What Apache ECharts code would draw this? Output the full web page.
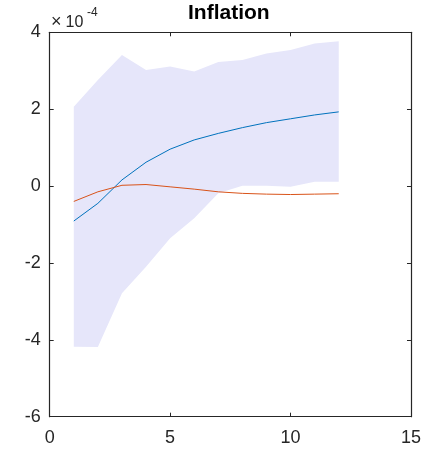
<!DOCTYPE html>
<html>
<head>
<meta charset="utf-8">
<script src="https://cdn.jsdelivr.net/npm/echarts@6/dist/echarts.min.js"></script>
<style>
  html, body { margin: 0; padding: 0; background: #fff; }
  #chart { width: 424px; height: 452px; }
</style>
</head>
<body>
<div id="chart"></div>
<script>
// horizon (periods) and responses, in units of 1e-4
var steps = [1, 2, 3, 4, 5, 6, 7, 8, 9, 10, 11, 12];
var bandUpper = [2.06, 2.76, 3.41, 3.02, 3.11, 2.98, 3.23, 3.28, 3.45, 3.54, 3.71, 3.77];
var bandLower = [-4.18, -4.19, -2.79, -2.10, -1.36, -0.84, -0.19, 0.01, 0.01, -0.02, 0.11, 0.11];
var blueLine = [-0.91, -0.45, 0.16, 0.62, 0.96, 1.20, 1.37, 1.52, 1.65, 1.75, 1.85, 1.93];
var orangeLine = [-0.40, -0.15, 0.02, 0.04, -0.02, -0.08, -0.15, -0.19, -0.21, -0.22, -0.21, -0.20];
var xTicks = [0, 15, 5];   // min, max, step
var yTicks = [-6, 4, 2];

var font = 'Liberation Sans, Arial, Helvetica, sans-serif';
var axisColor = '#262626';

var chart = echarts.init(document.getElementById('chart'));

function pairs(vals) {
  return steps.map(function(x, i) { return [x, vals[i]]; });
}

var boxAxis = function(pos, isX, showLabel) {
  var t = isX ? xTicks : yTicks;
  return {
    type: 'value',
    position: pos,
    min: t[0],
    max: t[1],
    interval: t[2],
    axisLine: { show: true, onZero: false, lineStyle: { color: axisColor, width: 1.2 } },
    axisTick: { show: true, inside: true, length: 4, lineStyle: { color: axisColor } },
    splitLine: { show: false },
    axisLabel: {
      show: showLabel,
      margin: isX ? 12 : 9,
      fontSize: 18,
      fontFamily: font,
      color: axisColor
    }
  };
};

var option = {
  animation: false,
  grid: { left: 49.7, right: 13, top: 32.3, bottom: 35.3, containLabel: false },
  xAxis: [boxAxis('bottom', true, true), boxAxis('top', true, false)],
  yAxis: [boxAxis('left', false, true), boxAxis('right', false, false)],
  graphic: [
    {
      type: 'text', left: 230 - 42, top: 3,
      style: { text: 'Inflation', fontSize: 21, fontWeight: 'bold', fontFamily: font, fill: '#000' }
    },
    // exponent label: x10^-4
    {
      type: 'text', left: 51, top: 13,
      style: { text: '\u00d7', fontSize: 18, fontFamily: font, fill: axisColor }
    },
    {
      type: 'text', left: 65.5, top: 15,
      style: { text: '10', fontSize: 16, fontFamily: font, fill: axisColor }
    },
    {
      type: 'text', left: 87, top: 6.8,
      style: { text: '-4', fontSize: 12, fontFamily: font, fill: axisColor }
    }
  ],
  series: [
    {
      type: 'custom',
      silent: true,
      data: steps.map(function(x, i) { return [x, bandLower[i], bandUpper[i]]; }),
      encode: { x: 0, y: [1, 2] },
      renderItem: function(params, api) {
        if (params.dataIndex !== 0) return;
        var pts = [];
        for (var i = 0; i < steps.length; i++) pts.push(api.coord([steps[i], bandUpper[i]]));
        for (var j = steps.length - 1; j >= 0; j--) pts.push(api.coord([steps[j], bandLower[j]]));
        return { type: 'polygon', shape: { points: pts }, style: { fill: '#E6E6FA' } };
      },
      z: 1
    },
    {
      type: 'line',
      data: pairs(blueLine),
      showSymbol: false,
      lineStyle: { color: '#0072BD', width: 1 },
      z: 3
    },
    {
      type: 'line',
      data: pairs(orangeLine),
      showSymbol: false,
      lineStyle: { color: '#D95319', width: 1 },
      z: 4
    }
  ]
};

chart.setOption(option);
</script>
</body>
</html>
